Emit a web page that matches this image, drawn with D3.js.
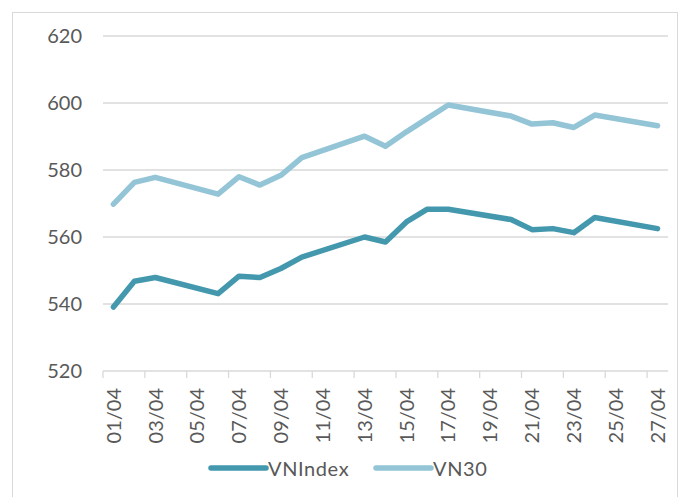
<!DOCTYPE html>
<html>
<head>
<meta charset="utf-8">
<script src="https://cdn.jsdelivr.net/npm/d3@7"></script>
<style>
  body { margin: 0; background: #fff; }
  svg { display: block; font-family: Lato, "Open Sans", sans-serif; }
</style>
</head>
<body>
<div id="chart"></div>
<script>
// Size of the page the chart is drawn into.
var w = 681,
    h = 497;

// Trading days (dd/mm) and closing values.
var dates = ["01/04", "02/04", "03/04", "06/04", "07/04", "08/04", "09/04", "10/04",
             "13/04", "14/04", "15/04", "16/04", "17/04", "20/04", "21/04", "22/04",
             "23/04", "24/04", "27/04"];
var vnindex = [539.1, 546.8, 547.9, 543.1, 548.3, 547.9, 550.6, 554.0,
               560.0, 558.5, 564.5, 568.3, 568.3, 565.2, 562.2, 562.5,
               561.3, 565.8, 562.5];
var vn30 = [569.8, 576.3, 577.8, 572.8, 578.0, 575.5, 578.4, 583.7,
            590.1, 587.1, 591.4, 595.4, 599.4, 596.1, 593.7, 594.1,
            592.7, 596.4, 593.2];

// Axis labels: every second calendar day, and the y ticks.
var xLabels = ["01/04", "03/04", "05/04", "07/04", "09/04", "11/04", "13/04",
               "15/04", "17/04", "19/04", "21/04", "23/04", "25/04", "27/04"];
var yTicks = [520, 540, 560, 580, 600, 620];

var series = [
    { name: "VNIndex", values: vnindex, color: "#4398ae" },
    { name: "VN30", values: vn30, color: "#93c5d7" }
];

var grid = "#d9d9d9",
    textColor = "#595959";

function day(s) { return parseInt(s.split("/")[0], 10); }

var svg = d3.select("#chart")
    .append("svg")
    .attr("width", w)
    .attr("height", h);

// outer chart frame
svg.append("rect")
    .attr("x", 12.5)
    .attr("y", 12.5)
    .attr("width", 665)
    .attr("height", 500)
    .attr("fill", "none")
    .attr("stroke", grid)
    .attr("stroke-width", 1);

// date axis: one slot per calendar day, 1..27 April
var x = d3.scaleLinear()
    .domain([0.5, 27.5])
    .range([103, 668]);

var y = d3.scaleLinear()
    .domain([520, 620])
    .range([371, 36]);

// horizontal gridlines
svg.append("g")
    .selectAll("line")
    .data(yTicks.slice(1))
    .enter()
    .append("line")
    .attr("x1", x(0.5))
    .attr("x2", x(27.5))
    .attr("y1", function (d) { return y(d); })
    .attr("y2", function (d) { return y(d); })
    .attr("stroke", grid)
    .attr("stroke-width", 1.3);

// y labels
svg.append("g")
    .selectAll("text")
    .data(yTicks)
    .enter()
    .append("text")
    .attr("x", 82)
    .attr("y", function (d) { return y(d); })
    .attr("dy", "0.36em")
    .attr("text-anchor", "end")
    .attr("font-size", 20)
    .attr("fill", textColor)
    .text(function (d) { return d; });

// x axis line and tick marks
var xAxis = svg.append("g");
xAxis.append("line")
    .attr("x1", x(0.5))
    .attr("x2", x(27.5))
    .attr("y1", y(520))
    .attr("y2", y(520))
    .attr("stroke", grid)
    .attr("stroke-width", 1.3);

xAxis.selectAll("line.tick")
    .data(xLabels)
    .enter()
    .append("line")
    .attr("class", "tick")
    .attr("x1", function (d) { return x(day(d) - 0.5); })
    .attr("x2", function (d) { return x(day(d) - 0.5); })
    .attr("y1", y(520))
    .attr("y2", y(520) + 7)
    .attr("stroke", grid)
    .attr("stroke-width", 1.3);

xAxis.selectAll("text")
    .data(xLabels)
    .enter()
    .append("text")
    .attr("transform", function (d) {
        return "translate(" + x(day(d)) + "," + 388 + ") rotate(-90)";
    })
    .attr("dy", "0.36em")
    .attr("text-anchor", "end")
    .attr("font-size", 20)
    .attr("fill", textColor)
    .text(function (d) { return d; });

// the two index lines
var line = d3.line()
    .x(function (d, i) { return x(day(dates[i])); })
    .y(function (d) { return y(d); });

svg.append("g")
    .selectAll("path")
    .data(series)
    .enter()
    .append("path")
    .attr("d", function (d) { return line(d.values); })
    .attr("fill", "none")
    .attr("stroke", function (d) { return d.color; })
    .attr("stroke-width", 5.5)
    .attr("stroke-linejoin", "round")
    .attr("stroke-linecap", "round");

// legend
var legendX = [211, 376];
var legend = svg.append("g")
    .selectAll("g")
    .data(series)
    .enter()
    .append("g")
    .attr("transform", function (d, i) { return "translate(" + legendX[i] + ",468)"; });

legend.append("line")
    .attr("x1", 0)
    .attr("x2", 55)
    .attr("stroke", function (d) { return d.color; })
    .attr("stroke-width", 5.5)
    .attr("stroke-linecap", "round");

legend.append("text")
    .attr("x", 57)
    .attr("y", 7.5)
    .attr("font-size", 20)
    .attr("letter-spacing", 0.6)
    .attr("fill", textColor)
    .text(function (d) { return d.name; });
</script>
</body>
</html>
